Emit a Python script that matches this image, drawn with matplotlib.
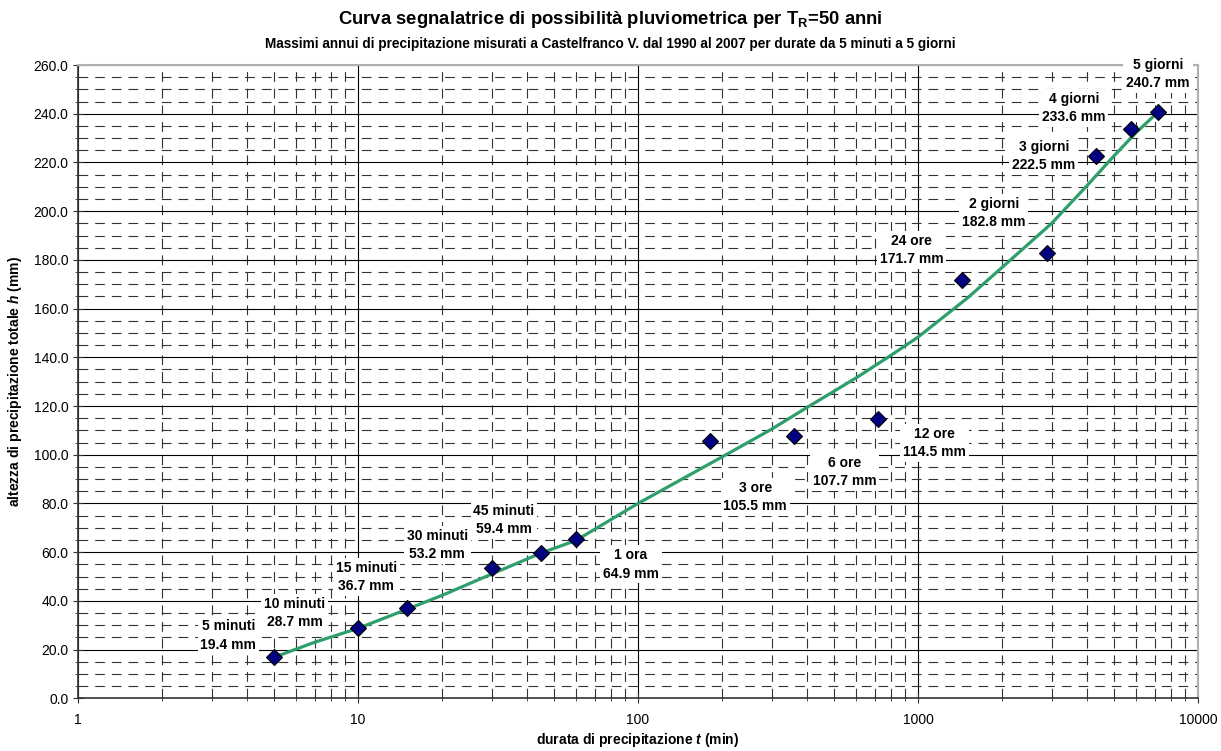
import matplotlib
matplotlib.use("Agg")
import matplotlib.pyplot as plt
from matplotlib.ticker import FixedLocator, FuncFormatter, NullFormatter

plt.rcParams['font.family'] = ['Liberation Sans', 'DejaVu Sans']
plt.rcParams['mathtext.fontset'] = 'custom'
plt.rcParams['mathtext.rm'] = 'Liberation Sans:bold'
plt.rcParams['mathtext.it'] = 'Liberation Sans:bold:italic'
plt.rcParams['mathtext.bf'] = 'Liberation Sans:bold'
plt.rcParams['lines.scale_dashes'] = False

# durations (min) and measured maxima (mm)
durations = [5, 10, 15, 30, 45, 60, 180, 360, 720, 1440, 2880, 4320, 5760, 7200]
heights = [16.8, 28.7, 36.9, 53.3, 59.8, 65.2, 105.5, 107.7, 114.5, 171.7, 182.8, 222.5, 233.6, 240.7]
labels = ['5 minuti\n19.4 mm', '10 minuti\n28.7 mm', '15 minuti\n36.7 mm', '30 minuti\n53.2 mm',
          '45 minuti\n59.4 mm', '1 ora\n64.9 mm', '3 ore\n105.5 mm', '6 ore\n107.7 mm',
          '12 ore\n114.5 mm', '24 ore\n171.7 mm', '2 giorni\n182.8 mm', '3 giorni\n222.5 mm',
          '4 giorni\n233.6 mm', '5 giorni\n240.7 mm']

# curve
curve_t = [5, 7, 10, 15, 20, 30, 45, 60, 100, 150, 220, 300, 400, 600, 800, 1000, 1500, 2000,
           3000, 4000, 5000, 6000, 7200]
curve_h = [16.8, 23.0, 28.7, 36.6, 42.3, 51.0, 59.6, 64.8, 80.0, 91.2, 101.8, 110.5, 119.3,
           131.5, 140.8, 148.3, 164.3, 177.0, 195.0, 210.3, 222.6, 232.2, 240.7]

# where the labels sit (data coords)
label_xy = [(3.44, 25.7), (5.93, 35.0), (10.7, 49.8), (19.2, 63.0), (33.2, 73.2), (94.4, 55.0),
            (262, 82.6), (546, 92.9), (1146, 104.8), (948, 184.1), (1862, 199.3), (2812, 222.7),
            (3600, 242.4), (7193, 256.2)]

fig = plt.figure(figsize=(12.21, 7.51), dpi=100)
ax = fig.add_axes([0.0639, 0.0702, 0.9173, 0.8432])

ax.set_xscale('log')
ax.set_xlim(1, 10000)
ax.set_ylim(0, 260)

ax.yaxis.set_major_locator(FixedLocator(range(0, 261, 20)))
ax.yaxis.set_minor_locator(FixedLocator([v for v in range(0, 261, 5) if v % 20]))
ax.yaxis.set_major_formatter(FuncFormatter(lambda v, p: '%.1f' % v))
ax.xaxis.set_major_locator(FixedLocator([1, 10, 100, 1000, 10000]))
ax.xaxis.set_major_formatter(FuncFormatter(lambda v, p: '%d' % v))
ax.xaxis.set_minor_formatter(NullFormatter())

ax.grid(True, which='major', color='black', lw=0.8, ls='-')
ax.grid(True, which='minor', color='#333333', lw=0.8, ls=(0, (7, 5)))
ax.set_axisbelow(True)

ax.tick_params(which='both', direction='inout', labelsize=10, color='#333333')
ax.tick_params(which='major', length=7)
ax.tick_params(which='minor', length=5)
ax.tick_params(axis='x', pad=7)

for s in ['top', 'right']:
    ax.spines[s].set_color('#b0b0b0')
    ax.spines[s].set_linewidth(1.5)
for s in ['left', 'bottom']:
    ax.spines[s].set_color('#333333')
    ax.spines[s].set_linewidth(1.2)

ax.plot(curve_t, curve_h, color='#2e9e6b', lw=2.3, zorder=3)
ax.plot(durations, heights, ls='none', marker='D', ms=8, mfc='#000080', mec='black', mew=0.8, zorder=5)

for txt, (lx, ly) in zip(labels, label_xy):
    ax.text(lx, ly, txt, ha='center', va='center', fontsize=10, fontweight='bold',
            linespacing=1.4, zorder=4,
            bbox=dict(facecolor='white', edgecolor='none', pad=2))

fig.text(0.5, 0.974, r'Curva segnalatrice di possibilità pluviometrica per T$_\mathrm{R}$=50 anni',
         ha='center', va='center', fontsize=13.3, fontweight='bold')
fig.text(0.5, 0.941, 'Massimi annui di precipitazione misurati a Castelfranco V. dal 1990 al 2007 per durate da 5 minuti a 5 giorni',
         ha='center', va='center', fontsize=9.8, fontweight='bold')

ax.set_xlabel(r'durata di precipitazione $t$ (min)', fontsize=10, fontweight='bold', labelpad=3)
ax.set_ylabel(r'altezza di precipitazione totale $h$ (mm)', fontsize=10, fontweight='bold', labelpad=7)

fig.savefig('out.png', dpi=100)
